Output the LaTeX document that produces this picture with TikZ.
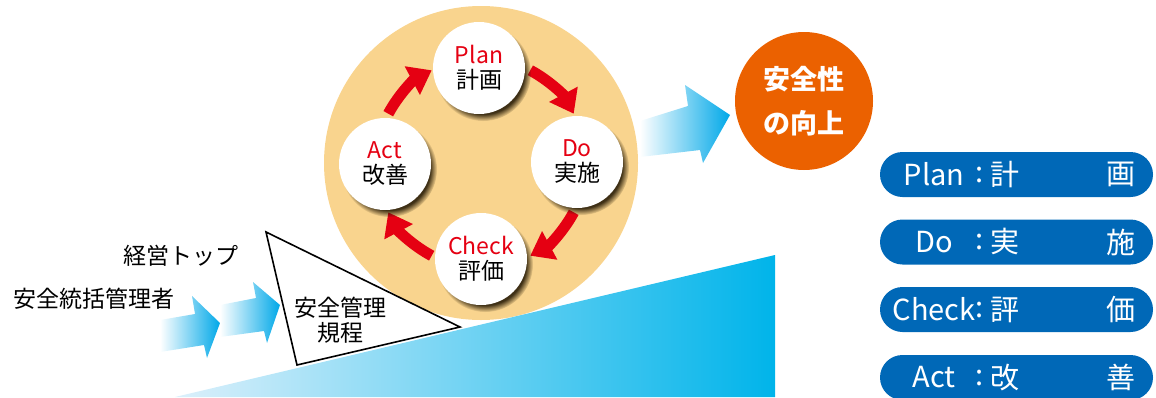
\documentclass[tikz,border=0pt]{standalone}
\usepackage{fontspec}
\setmainfont{Noto Sans CJK JP}
\usetikzlibrary{arrows.meta,shadows}
\definecolor{ring}{HTML}{F9D48E}
\definecolor{pdcared}{HTML}{E50012}
\definecolor{safeorange}{HTML}{EB6100}
\definecolor{pillblue}{HTML}{0068B7}
\definecolor{arrowcyan}{HTML}{00A8E8}
\definecolor{slopelight}{HTML}{DCF0FB}
\definecolor{slopecyan}{HTML}{00B4EA}
\definecolor{shadowbrown}{HTML}{2A1E08}
\begin{document}
\begin{tikzpicture}[x=1pt,y=-1pt,
  pdca/.style={circle,fill=white,minimum size=92pt,inner sep=0pt,align=center,
    font=\fontsize{23}{25}\selectfont,
    circular drop shadow={shadow xshift=4pt,shadow yshift=-5pt,shadow scale=1.04,fill=shadowbrown,opacity=0.9}},
  redarc/.style={draw=pdcared,line width=11pt,-{Triangle[length=22pt,width=31pt]}},
  bluearrow/.style={left color=white,right color=arrowcyan},
  pill/.style={fill=pillblue,rounded corners=22.5pt,minimum width=273pt,minimum height=45pt,inner sep=0pt},
  pilltext/.style={text=white,font=\fontsize{29}{30}\selectfont,inner sep=0pt},
  lefttext/.style={font=\fontsize{23}{25}\selectfont,inner sep=0pt,align=center}]
\useasboundingbox (0,0) rectangle (1156,397);
% big ring
\coordinate (c) at (481,163);
\fill[ring] (c) circle[radius=157];
% red cycle arcs
\draw[redarc] (c) ++(-62:105) arc[start angle=-62,end angle=-28,radius=105];
\draw[redarc] (c) ++(28:105) arc[start angle=28,end angle=62,radius=105];
\draw[redarc] (c) ++(118:105) arc[start angle=118,end angle=152,radius=105];
\draw[redarc] (c) ++(-152:105) arc[start angle=-152,end angle=-118,radius=105];
% PDCA nodes
\node[pdca] (plan) at (479,68) {\textcolor{pdcared}{Plan}\\計画};
\node[pdca] (do) at (577,162) {\textcolor{pdcared}{Do}\\実施};
\node[pdca] (check) at (481,259) {\textcolor{pdcared}{Check}\\評価};
\node[pdca] (act) at (385,164) {\textcolor{pdcared}{Act}\\改善};
% slope
\shade[left color=slopelight,right color=slopecyan] (175,397) -- (775,255) -- (775,397) -- cycle;
% triangle
\draw[fill=white,line width=1.6pt,line join=miter] (266,232) -- (297,365) -- (460,327) -- cycle;
\node[lefttext] (rule) at (340,320) {安全管理\\規程};
% left texts
\node[lefttext] (top) at (181,256) {経営トップ};
\node[lefttext] (mgr) at (94,299) {安全統括管理者};
% left arrows
\shade[bluearrow] (160,320) -- (195,314) -- (192,296) -- (220,323) -- (207,358) -- (204,345) -- (160,352) -- cycle;
\shade[bluearrow] (220,305) -- (256,298) -- (253,282) -- (280,305) -- (267,343) -- (264,331) -- (220,337) -- cycle;
% big blue arrow
\shade[bluearrow] (640,121) -- (688,106) -- (685,85) -- (730,115) -- (703,163) -- (700,150) -- (640,157) -- cycle;
% result circle
\node[circle,fill=safeorange,minimum size=138pt,inner sep=0pt] (result) at (804,101) {};
\node[text=white,font=\fontsize{27}{44}\selectfont\bfseries,align=center,inner sep=0pt] (resulttext) at (result) {安全性\\の向上};
% pills
\foreach \y/\en/\ja/\jb [count=\i] in {174.5/Plan/計/画, 242/Do/実/施, 309.5/Check/評/価, 377.5/Act/改/善}{
  \node[pill] (pill\i) at (1016.5,\y) {};
  \node[pilltext] (en\i) at (934,\y) {\en};
  \node[pilltext] (colon\i) at (980,\y) {:};
  \node[pilltext] (ja\i) at (1005,\y) {\ja};
  \node[pilltext] (jb\i) at (1121,\y) {\jb};
}
\end{tikzpicture}
\end{document}
